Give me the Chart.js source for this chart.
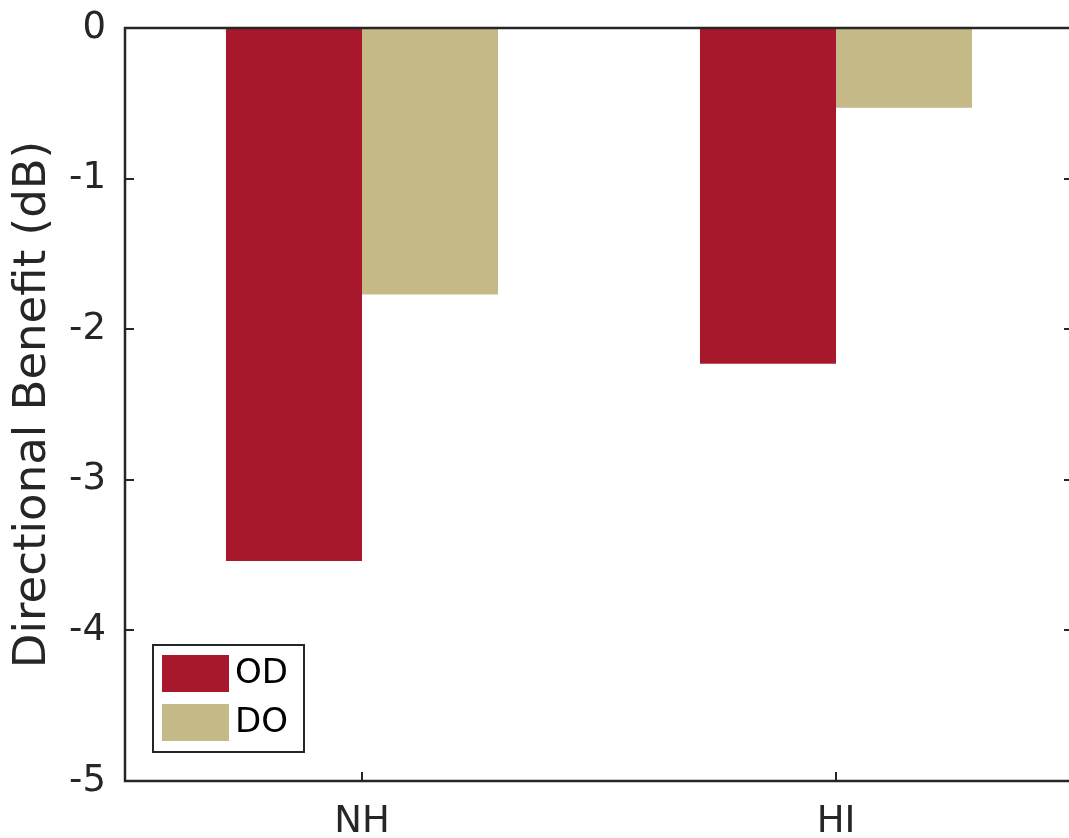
<!DOCTYPE html>
<html>
<head>
<meta charset="utf-8">
<script src="https://cdn.jsdelivr.net/npm/chart.js@4.4.1/dist/chart.umd.min.js"></script>
<style>
  html, body { margin: 0; padding: 0; background: #ffffff; overflow: hidden; }
  #wrap { position: relative; width: 1076px; height: 838px; }
</style>
</head>
<body>
<div id="wrap"><canvas id="chart"></canvas></div>
<script>
// Groups along the x axis and the two conditions per group
const groups = ['NH', 'HI'];
const seriesNames = ['OD', 'DO'];
const odValues = [-3.54, -2.23];
const doValues = [-1.77, -0.53];
const yTicks = [-5, -4, -3, -2, -1, 0];

const AXIS = '#262626';
const FONT = 'DejaVu Sans, Verdana, sans-serif';

// Box around the axes with inward-pointing tick marks
const frameTicks = {
  id: 'frameTicks',
  beforeDatasetsDraw(chart) {
    const { ctx, chartArea: a, scales } = chart;
    const len = 9;
    ctx.save();
    ctx.strokeStyle = AXIS;
    ctx.lineWidth = 2;
    ctx.beginPath();
    yTicks.forEach(v => {
      const y = Math.round(scales.y.getPixelForValue(v));
      ctx.moveTo(a.left, y); ctx.lineTo(a.left + len, y);
      ctx.moveTo(a.right, y); ctx.lineTo(a.right - len, y);
    });
    groups.forEach((g, i) => {
      const x = Math.round(scales.x.getPixelForValue(i));
      ctx.moveTo(x, a.bottom); ctx.lineTo(x, a.bottom - len);
      ctx.moveTo(x, a.top); ctx.lineTo(x, a.top + len);
    });
    ctx.stroke();
    ctx.restore();
  },
  afterDatasetsDraw(chart) {
    const { ctx, chartArea: a } = chart;
    ctx.save();
    ctx.strokeStyle = AXIS;
    ctx.lineWidth = 2.5;
    ctx.strokeRect(a.left, a.top, a.right - a.left, a.bottom - a.top);
    ctx.restore();
  }
};

// Boxed legend in the lower-left corner of the plot
const boxLegend = {
  id: 'boxLegend',
  afterDraw(chart) {
    const { ctx } = chart;
    const bx = 153, by = 645, bw = 151, bh = 107;
    ctx.save();
    ctx.fillStyle = '#ffffff';
    ctx.fillRect(bx, by, bw, bh);
    ctx.strokeStyle = AXIS;
    ctx.lineWidth = 2;
    ctx.strokeRect(bx, by, bw, bh);
    chart.data.datasets.forEach((ds, i) => {
      const sy = 655 + i * 49;
      ctx.fillStyle = ds.backgroundColor;
      ctx.fillRect(162, sy, 67, 37);
      ctx.fillStyle = '#000000';
      ctx.font = '34px ' + FONT;
      ctx.textBaseline = 'middle';
      ctx.textAlign = 'left';
      ctx.fillText(ds.label, 235, sy + 19);
    });
    ctx.restore();
  }
};

new Chart(document.getElementById('chart'), {
  type: 'bar',
  data: {
    labels: groups,
    datasets: [
      { label: seriesNames[0], data: odValues, backgroundColor: '#A8182D', borderWidth: 0 },
      { label: seriesNames[1], data: doValues, backgroundColor: '#C5B987', borderWidth: 0 }
    ]
  },
  options: {
    responsive: true,
    maintainAspectRatio: false,
    animation: false,
    layout: { padding: { top: 28, right: 3, left: 0, bottom: 0 } },
    datasets: { bar: { categoryPercentage: 0.574, barPercentage: 1.0 } },
    plugins: { legend: { display: false }, tooltip: { enabled: false } },
    scales: {
      x: {
        grid: { display: false, drawTicks: false },
        border: { display: false },
        ticks: { color: AXIS, font: { family: FONT, size: 37 }, padding: 19, maxRotation: 0 },
        afterFit(s) { s.height = 57; s.paddingLeft = 0; s.paddingRight = 0; }
      },
      y: {
        min: -5, max: 0,
        grid: { display: false, drawTicks: false },
        border: { display: false },
        afterBuildTicks(s) { s.ticks = yTicks.map(v => ({ value: v })); },
        ticks: { color: AXIS, font: { family: FONT, size: 37 }, padding: 19 },
        title: {
          display: true,
          text: 'Directional Benefit (dB)',
          color: AXIS,
          font: { family: FONT, size: 45 },
          padding: { top: 6, bottom: 0 }
        },
        afterFit(s) { s.width = 125; s.paddingTop = 0; s.paddingBottom = 0; }
      }
    }
  },
  plugins: [frameTicks, boxLegend]
});
</script>
</body>
</html>
